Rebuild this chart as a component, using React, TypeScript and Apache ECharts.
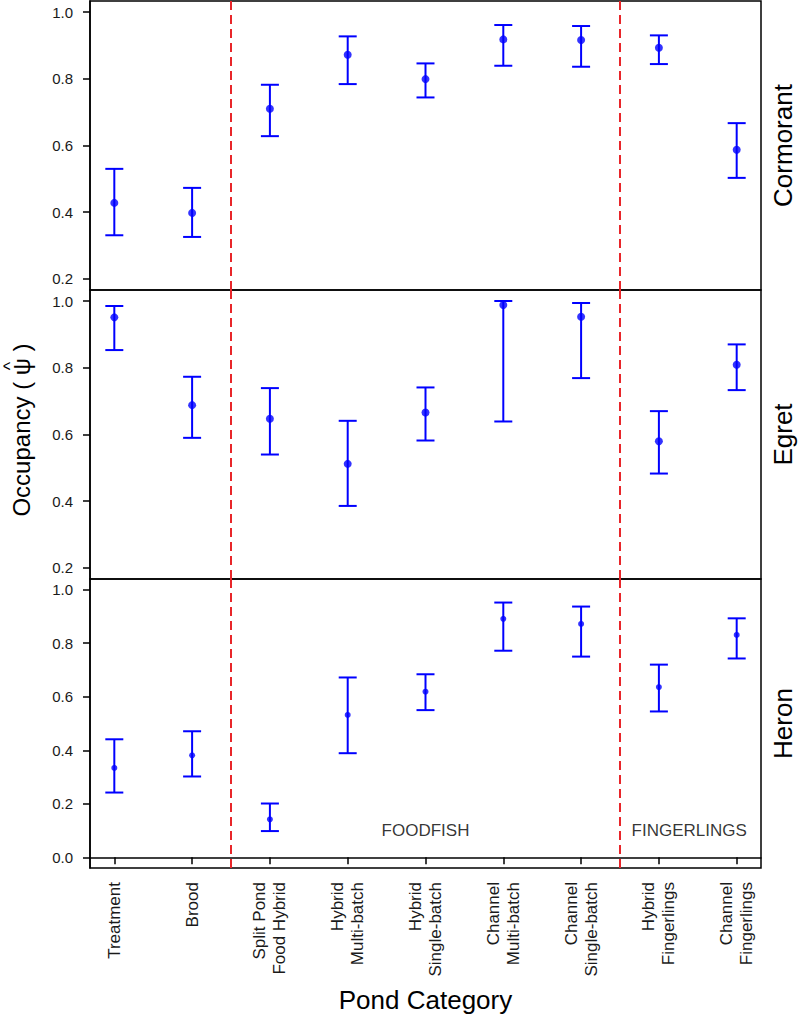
import React, { useEffect, useRef } from "react";
import * as echarts from "echarts";

const categories = [
  "Treatment",
  "Brood",
  "Split Pond\nFood Hybrid",
  "Hybrid\nMulti-batch",
  "Hybrid\nSingle-batch",
  "Channel\nMulti-batch",
  "Channel\nSingle-batch",
  "Hybrid\nFingerlings",
  "Channel\nFingerlings",
];

const species = ["Cormorant", "Egret", "Heron"];

const cormorantEst = [0.428, 0.398, 0.71, 0.872, 0.799, 0.918, 0.916, 0.893, 0.587];
const cormorantLo = [0.331, 0.326, 0.628, 0.784, 0.744, 0.839, 0.836, 0.844, 0.503];
const cormorantHi = [0.53, 0.473, 0.782, 0.927, 0.846, 0.961, 0.958, 0.93, 0.667];

const egretEst = [0.951, 0.688, 0.647, 0.512, 0.666, 0.988, 0.953, 0.58, 0.809];
const egretLo = [0.853, 0.59, 0.54, 0.386, 0.582, 0.639, 0.769, 0.483, 0.733];
const egretHi = [0.985, 0.773, 0.739, 0.641, 0.741, 1.0, 0.994, 0.67, 0.87];

const heronEst = [0.334, 0.381, 0.142, 0.532, 0.619, 0.891, 0.872, 0.636, 0.831];
const heronLo = [0.242, 0.302, 0.098, 0.389, 0.55, 0.772, 0.75, 0.545, 0.743];
const heronHi = [0.441, 0.471, 0.201, 0.672, 0.684, 0.952, 0.937, 0.72, 0.893];

const yTicksUpper = [0.2, 0.4, 0.6, 0.8, 1.0];
const yTicksLower = [0.0, 0.2, 0.4, 0.6, 0.8, 1.0];

const groupLabels = ["FOODFISH", "FINGERLINGS"];
const groupLabelX = [5, 8.39];
const groupLabelY = 0.1;

const dividers = [2.5, 7.5];

const xTitle = "Pond Category";
const yTitle = "Occupancy ( \u03C8 )";

const FONT = "'Liberation Sans', Arial, Helvetica, sans-serif";
const BLUE = "#0000ff";

export default function App() {
  const ref = useRef<HTMLDivElement>(null);

  useEffect(() => {
    if (!ref.current) return;
    const chart = echarts.init(ref.current, null, { renderer: "svg" });

    const panels = [
      { est: cormorantEst, lo: cormorantLo, hi: cormorantHi, min: 0.167, max: 1.033, ticks: yTicksUpper, dot: 8 },
      { est: egretEst, lo: egretLo, hi: egretHi, min: 0.167, max: 1.033, ticks: yTicksUpper, dot: 8 },
      { est: heronEst, lo: heronLo, hi: heronHi, min: -0.04, max: 1.04, ticks: yTicksLower, dot: 6 },
    ];

    const grids = panels.map((_, i) => ({
      left: 90,
      right: 39,
      top: 1 + i * 289,
      height: 289,
      show: true,
      borderColor: "#000",
      borderWidth: 1.5,
      backgroundColor: "transparent",
      containLabel: false,
      outerBoundsMode: "none",
    }));

    const xAxes = panels.map((_, i) => {
      const isBottom = i === panels.length - 1;
      return {
        type: "value",
        gridIndex: i,
        min: 0.6875,
        max: 9.3125,
        show: isBottom,
        splitLine: { show: false },
        axisLine: { show: true, lineStyle: { color: "#000", width: 1.5 } },
        axisTick: {
          show: true,
          length: 7,
          customValues: categories.map((_, k) => k + 1),
          lineStyle: { color: "#000", width: 1.5 },
        },
        axisLabel: {
          show: true,
          rotate: 90,
          margin: 14,
          customValues: categories.map((_, k) => k + 1),
          formatter: (v: number) => categories[Math.round(v) - 1] ?? "",
          fontSize: 17,
          lineHeight: 20,
          color: "#1a1a1a",
          fontFamily: FONT,
        },
      };
    });

    const yAxes = panels.map((p, i) => ({
      type: "value",
      gridIndex: i,
      min: p.min,
      max: p.max,
      splitLine: { show: false },
      axisLine: { show: true, lineStyle: { color: "#000", width: 1.5 } },
      axisTick: {
        show: true,
        length: 7,
        customValues: p.ticks,
        lineStyle: { color: "#000", width: 1.5 },
      },
      axisLabel: {
        show: true,
        margin: 17,
        customValues: p.ticks,
        formatter: (v: number) => v.toFixed(1),
        fontSize: 15,
        color: "#1a1a1a",
        fontFamily: FONT,
      },
    }));

    const series: any[] = [];
    panels.forEach((p, i) => {
      series.push({
        type: "custom",
        xAxisIndex: i,
        yAxisIndex: i,
        data: p.est.map((_, k) => [k + 1, p.lo[k], p.hi[k]]),
        encode: { x: 0, y: [1, 2] },
        renderItem: (params: any, api: any) => {
          const x = api.value(0);
          const a = api.coord([x, api.value(1)]);
          const b = api.coord([x, api.value(2)]);
          const half = 9;
          const style = { stroke: BLUE, lineWidth: 2, fill: "none" };
          return {
            type: "group",
            children: [
              { type: "line", shape: { x1: a[0], y1: a[1], x2: b[0], y2: b[1] }, style },
              { type: "line", shape: { x1: a[0] - half, y1: a[1], x2: a[0] + half, y2: a[1] }, style },
              { type: "line", shape: { x1: b[0] - half, y1: b[1], x2: b[0] + half, y2: b[1] }, style },
            ],
          };
        },
        z: 3,
      });
      series.push({
        type: "scatter",
        xAxisIndex: i,
        yAxisIndex: i,
        data: p.est.map((v, k) => [k + 1, v]),
        symbol: "circle",
        symbolSize: p.dot,
        itemStyle: { color: BLUE },
        z: 4,
        markLine: {
          silent: true,
          symbol: "none",
          label: { show: false },
          lineStyle: { color: "#e8262a", type: [9, 5], width: 2 },
          data: dividers.map((d) => ({ xAxis: d })),
        },
      });
    });

    series.push({
      type: "scatter",
      xAxisIndex: 2,
      yAxisIndex: 2,
      data: groupLabels.map((name, k) => [groupLabelX[k], groupLabelY, name]),
      symbolSize: 0,
      label: {
        show: true,
        position: "inside",
        formatter: (p: any) => p.data[2],
        fontSize: 17,
        color: "#000",
        fontFamily: FONT,
      },
      z: 5,
    });

    const graphic: any[] = species.map((s, i) => ({
      type: "text",
      x: 783,
      y: 1 + i * 289 + 144.5,
      rotation: Math.PI / 2,
      style: {
        text: s,
        fontSize: 26,
        fill: "#000",
        fontFamily: FONT,
        align: "center",
        verticalAlign: "middle",
      },
    }));

    graphic.push({
      type: "text",
      x: 425.5,
      y: 1000,
      style: {
        text: xTitle,
        fontSize: 26,
        fill: "#000",
        fontFamily: FONT,
        align: "center",
        verticalAlign: "middle",
      },
    });

    graphic.push({
      type: "group",
      x: 21,
      y: 430,
      rotation: Math.PI / 2,
      children: [
        {
          type: "text",
          x: 0,
          y: 0,
          style: {
            text: yTitle,
            fontSize: 24,
            fill: "#000",
            fontFamily: FONT,
            align: "center",
            verticalAlign: "middle",
          },
        },
        {
          type: "text",
          x: 64,
          y: -11,
          style: {
            text: "^",
            fontSize: 18,
            fill: "#000",
            fontFamily: FONT,
            align: "center",
            verticalAlign: "middle",
          },
        },
      ],
    });

    chart.setOption({
      animation: false,
      backgroundColor: "#fff",
      grid: grids,
      xAxis: xAxes,
      yAxis: yAxes,
      series,
      graphic,
    });

    return () => chart.dispose();
  }, []);

  return (
    <div
      ref={ref}
      style={{ position: "fixed", left: 0, top: 0, width: 800, height: 1017 }}
    />
  );
}
